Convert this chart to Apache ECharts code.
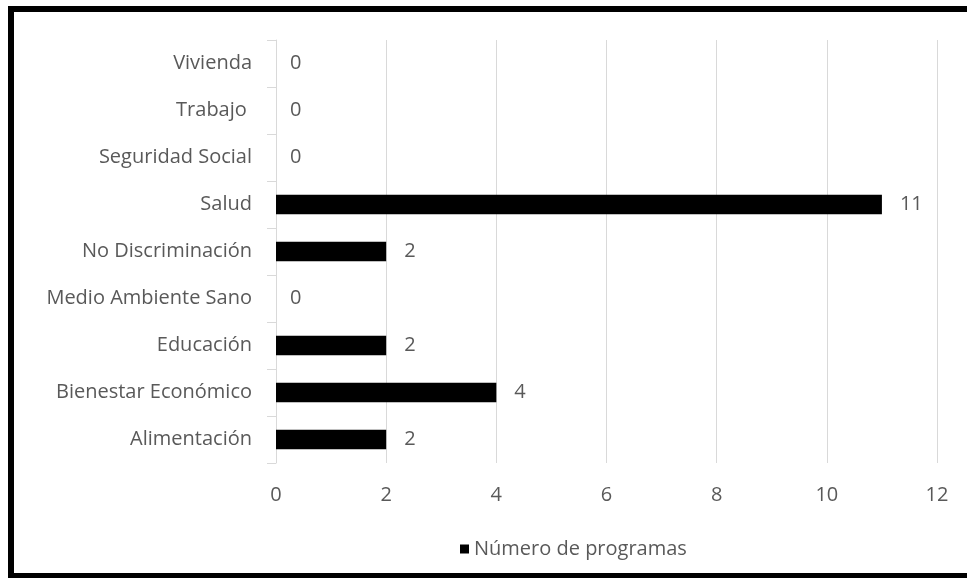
<!DOCTYPE html>
<html>
<head>
<meta charset="utf-8">
<script src="https://cdn.jsdelivr.net/npm/echarts@6/dist/echarts.min.js"></script>
<style>
html,body{margin:0;padding:0;background:#fff;overflow:hidden;}
#chart{position:absolute;left:0;top:0;width:967px;height:578px;}
#frame{position:absolute;left:8px;top:6px;width:970px;height:573px;box-sizing:border-box;border:6px solid #000;pointer-events:none;}
</style>
</head>
<body>
<div id="chart"></div>
<div id="frame"></div>
<script>
var categories = ['Alimentación','Bienestar Económico','Educación','Medio Ambiente Sano','No Discriminación','Salud','Seguridad Social','Trabajo ','Vivienda'];
var values = [2,4,2,0,2,11,0,0,0];
var seriesName = 'Número de programas';
var xMin = 0, xMax = 12, xStep = 2;

var font = 'Open Sans';
var fs = 20;
var txt = '#595959';
var barData = values.map(function(v){
  return {value:v, label:{distance: v === 0 ? 14 : 18}};
});
var chart = echarts.init(document.getElementById('chart'));
chart.setOption({
  animation:false,
  backgroundColor:'#fff',
  grid:{left:276,right:30,top:40,bottom:115,containLabel:false},
  legend:{
    data:[seriesName],
    left:455, top:534,
    icon:'rect', itemWidth:9, itemHeight:9, itemGap:8,
    textStyle:{fontFamily:font,fontSize:fs,color:txt}
  },
  xAxis:{
    type:'value',min:xMin,max:xMax,interval:xStep,
    axisLine:{show:false},axisTick:{show:false},
    splitLine:{show:true,lineStyle:{color:'#d9d9d9',width:1}},
    axisLabel:{fontFamily:font,fontSize:fs,color:txt,margin:22}
  },
  yAxis:{
    type:'category',data:categories,
    axisLine:{show:true,lineStyle:{color:'#d9d9d9',width:1}},
    axisTick:{show:true,length:9,lineStyle:{color:'#d9d9d9'}},
    axisLabel:{fontFamily:font,fontSize:fs,color:txt,margin:24}
  },
  series:[{
    name:seriesName,type:'bar',data:barData,
    barCategoryGap:'58%',
    itemStyle:{color:'#000',borderWidth:0},
    label:{show:true,position:'right',fontFamily:font,fontSize:fs,color:txt}
  }]
});
</script>
</body>
</html>
